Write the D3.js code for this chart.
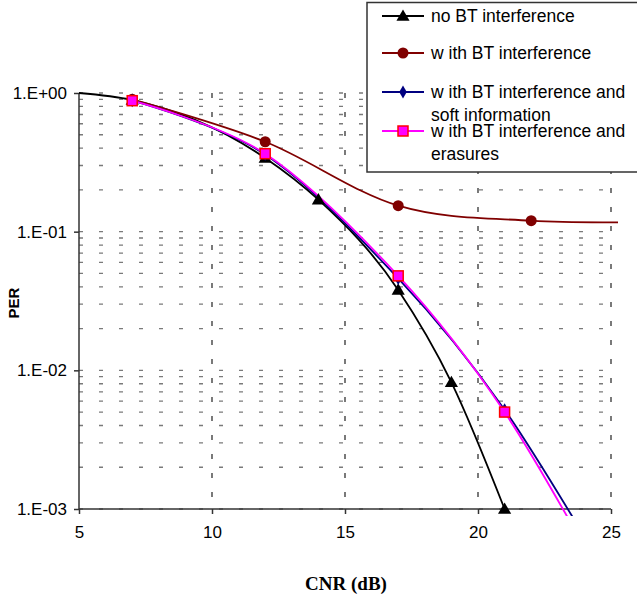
<!DOCTYPE html>
<html lang="en">
<head>
<meta charset="UTF-8">
<script src="https://d3js.org/d3.v7.min.js"></script>
<style>
body { margin: 0; background: #fff; }
</style>
</head>
<body>
<div class="canva"></div>
<script>
// data
const cnrNoBT   = [5, 7, 12, 14, 17, 19, 21];
const perNoBT   = [1.0, 0.89, 0.34, 0.17, 0.038, 0.0082, 0.001];
const cnrBT     = [7, 12, 17, 22, 27];
const perBT     = [0.9, 0.445, 0.154, 0.12, 0.118];
const cnrSoft   = [7, 12, 17, 21, 25];
const perSoft   = [0.88, 0.36, 0.046, 0.0052, 0.0003];
const cnrErase  = [7, 12, 17, 21, 25];
const perErase  = [0.88, 0.365, 0.048, 0.005, 0.00024];

const xTicks = [5, 10, 15, 20, 25];
const yTicks = [0.001, 0.01, 0.1, 1];
const yTickLabels = ["1.E-03", "1.E-02", "1.E-01", "1.E+00"];

const seriesNames = ["no BT interference", "w ith BT interference",
  "w ith BT interference and|soft information", "w ith BT interference and|erasures"];

const width = 637, height = 601;
const svg = d3.select(".canva").append("svg")
  .attr("width", width)
  .attr("height", height);

const x = d3.scaleLinear().domain([5, 25]).range([79, 611]);
const y = d3.scaleLog().domain([0.001, 1]).range([509, 93]);

// gridlines
const minorVals = [];
for (let k = -3; k <= 0; k++) {
  for (let m = 1; m <= 9; m++) {
    const v = m * Math.pow(10, k);
    if (v <= 1.0000001) minorVals.push(v);
  }
}
svg.append("g").selectAll("line")
  .data(minorVals)
  .enter().append("line")
  .attr("x1", x(5)).attr("x2", x(25))
  .attr("y1", d => y(d)).attr("y2", d => y(d))
  .attr("stroke", "#7a7a7a")
  .attr("stroke-width", 1.3)
  .attr("stroke-dasharray", "4,16");

svg.append("g").selectAll("line")
  .data(xTicks.slice(1))
  .enter().append("line")
  .attr("x1", d => x(d)).attr("x2", d => x(d))
  .attr("y1", y(1)).attr("y2", y(0.001))
  .attr("stroke", "#333")
  .attr("stroke-width", 1.3)
  .attr("stroke-dasharray", "5,14");

// axes
const xAxis = d3.axisBottom(x).tickValues(xTicks).tickSize(5).tickFormat(d3.format("d"));
const gx = svg.append("g").attr("transform", `translate(0,${y(0.001)})`).call(xAxis);
const yAxis = d3.axisLeft(y).tickValues(yTicks).tickSize(5)
  .tickFormat((d, i) => yTickLabels[i]);
const gy = svg.append("g").attr("transform", `translate(${x(5)},0)`).call(yAxis);

[gx, gy].forEach(g => {
  g.select(".domain").attr("stroke", "#333").attr("stroke-width", 1.5);
  g.selectAll(".tick line").attr("stroke", "#333").attr("stroke-width", 1.5);
  g.selectAll(".tick text")
    .attr("fill", "#000")
    .style("font-family", "Liberation Sans, Arial, sans-serif")
    .style("font-size", "17px");
});
gx.select(".domain").attr("d", `M${x(5)},0H${x(25)}`);
gx.selectAll(".tick text").attr("dy", "1.25em");
gy.select(".domain").attr("d", `M0,${y(0.001)}V${y(1)}`);
gy.selectAll(".tick text").attr("x", -12);

// axis titles
svg.append("text")
  .attr("transform", "translate(19,303) rotate(-90)")
  .attr("text-anchor", "middle")
  .style("font-family", "Liberation Sans, Arial, sans-serif")
  .style("font-weight", "bold")
  .style("font-size", "15px")
  .text("PER");

svg.append("text")
  .attr("x", 346).attr("y", 590)
  .attr("text-anchor", "middle")
  .style("font-family", "Liberation Serif, Times New Roman, serif")
  .style("font-weight", "bold")
  .style("font-size", "19px")
  .text("CNR (dB)");

// curves
svg.append("clipPath").attr("id", "plotclip")
  .append("rect").attr("x", 75).attr("y", 80).attr("width", 543).attr("height", 436);

const plot = svg.append("g").attr("clip-path", "url(#plotclip)");
const smooth = d3.line().x(d => x(d[0])).y(d => y(d[1])).curve(d3.curveCardinal.tension(0));
const mono = d3.line().x(d => x(d[0])).y(d => y(d[1])).curve(d3.curveMonotoneX);

const series = [
  { xs: cnrNoBT, ys: perNoBT, color: "#000000", marker: "triangle", skipFirst: true, line: mono },
  { xs: cnrBT, ys: perBT, color: "#800000", marker: "circle", line: smooth },
  { xs: cnrSoft, ys: perSoft, color: "#000080", marker: "diamond", line: smooth },
  { xs: cnrErase, ys: perErase, color: "#ff00ff", marker: "square", line: smooth }
];

function drawMarker(g, type, cx, cy, color) {
  if (type === "triangle") {
    g.append("path")
      .attr("d", d3.symbol().type(d3.symbolTriangle).size(75)())
      .attr("transform", `translate(${cx},${cy + 1})`)
      .attr("fill", "#000");
  } else if (type === "circle") {
    g.append("circle").attr("cx", cx).attr("cy", cy).attr("r", 5.5)
      .attr("fill", color);
  } else if (type === "diamond") {
    g.append("path")
      .attr("d", d3.symbol().type(d3.symbolDiamond).size(50)())
      .attr("transform", `translate(${cx},${cy})`)
      .attr("fill", color);
  } else {
    g.append("rect").attr("x", cx - 5).attr("y", cy - 5)
      .attr("width", 10).attr("height", 10)
      .attr("fill", "#ff00ff").attr("stroke", "#ff0000").attr("stroke-width", 1.5);
  }
}

series.forEach(s => {
  const pts = s.xs.map((v, i) => [v, s.ys[i]]);
  plot.append("path")
    .datum(pts)
    .attr("fill", "none")
    .attr("stroke", s.color)
    .attr("stroke-width", 1.8)
    .attr("d", s.line);
});
series.forEach(s => {
  const mg = plot.append("g");
  s.xs.forEach((v, i) => {
    if (s.skipFirst && i === 0) return;
    drawMarker(mg, s.marker, x(v), y(s.ys[i]), s.color);
  });
});

// legend
const legend = svg.append("g");
legend.append("rect")
  .attr("x", 367).attr("y", 2.5)
  .attr("width", 290).attr("height", 169.5)
  .attr("fill", "#fff")
  .attr("stroke", "#333")
  .attr("stroke-width", 1.5);

const legendY = [16, 53, 92, 131];
seriesNames.forEach((name, i) => {
  const ly = legendY[i];
  legend.append("line")
    .attr("x1", 382).attr("x2", 424)
    .attr("y1", ly).attr("y2", ly)
    .attr("stroke", series[i].color)
    .attr("stroke-width", 1.8);
  drawMarker(legend, series[i].marker, 403, ly, series[i].color);
  const parts = name.split("|");
  parts.forEach((p, j) => {
    legend.append("text")
      .attr("x", 431).attr("y", ly + 6 + j * 23)
      .style("font-family", "Liberation Sans, Arial, sans-serif")
      .style("font-size", "17.5px")
      .text(p);
  });
});
</script>
</body>
</html>
